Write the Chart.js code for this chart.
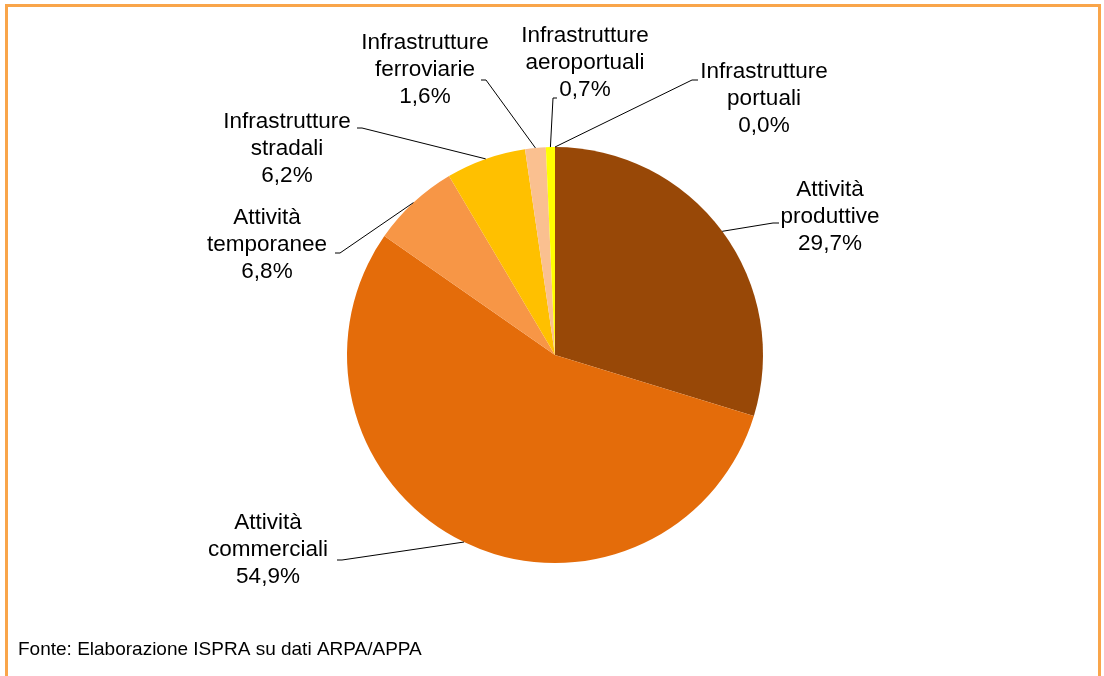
<!DOCTYPE html>
<html>
<head>
<meta charset="utf-8">
<script src="https://cdn.jsdelivr.net/npm/chart.js@4/dist/chart.umd.min.js"></script>
<style>
  html, body { margin: 0; padding: 0; background: #fff; }
  #wrap { position: relative; width: 1104px; height: 676px; overflow: hidden; }
  #frame { position: absolute; left: 5px; top: 4px; width: 1096px; height: 700px; border: 3px solid #F9A54A; box-sizing: border-box; }
  #chart { position: absolute; left: 0; top: 0; }
</style>
</head>
<body>
<div id="wrap">
  <div id="frame"></div>
  <canvas id="chart" width="1104" height="676"></canvas>
</div>
<script>
// data
const categories = [
    ['Attività', 'produttive'],
    ['Attività', 'commerciali'],
    ['Attività', 'temporanee'],
    ['Infrastrutture', 'stradali'],
    ['Infrastrutture', 'ferroviarie'],
    ['Infrastrutture', 'aeroportuali'],
    ['Infrastrutture', 'portuali']
];
const values = [29.7, 54.9, 6.8, 6.2, 1.6, 0.7, 0.0];
const sliceColors = ['#984807', '#E46C0A', '#F79646', '#FFC000', '#FAC090', '#FFFF00', '#000000'];
const sourceNote = 'Fonte: Elaborazione ISPRA su dati ARPA/APPA';

// label placement: text centre x, first line y, leader stub (from -> to)
const labelLayout = [
    { cx: 830, cy: 190, sx0: 779, sx1: 773, sy: 223 },
    { cx: 268, cy: 523, sx0: 337, sx1: 342, sy: 560 },
    { cx: 267, cy: 218, sx0: 335, sx1: 340, sy: 253 },
    { cx: 287, cy: 122, sx0: 357, sx1: 362, sy: 128 },
    { cx: 425, cy: 43,  sx0: 481, sx1: 486, sy: 80 },
    { cx: 585, cy: 36,  sx0: 557, sx1: 553, sy: 98 },
    { cx: 764, cy: 72,  sx0: 698, sx1: 692, sy: 80 }
];

function formatPct(v) {
    return v.toFixed(1).replace('.', ',') + '%';
}

const pieLabels = {
    id: 'pieLabels',
    afterDraw(chart) {
        const ctx = chart.ctx;
        const meta = chart.getDatasetMeta(0);
        ctx.save();
        ctx.font = '22.5px "Liberation Sans", Arial, sans-serif';
        ctx.fillStyle = '#000';
        ctx.textAlign = 'center';
        ctx.textBaseline = 'middle';
        ctx.strokeStyle = '#000';
        ctx.lineWidth = 1;

        meta.data.forEach((arc, i) => {
            const p = arc.getProps(['x', 'y', 'startAngle', 'endAngle', 'outerRadius'], true);
            const mid = (p.startAngle + p.endAngle) / 2;
            const ex = p.x + Math.cos(mid) * p.outerRadius;
            const ey = p.y + Math.sin(mid) * p.outerRadius;
            const lay = labelLayout[i];

            ctx.beginPath();
            ctx.moveTo(lay.sx0, lay.sy);
            ctx.lineTo(lay.sx1, lay.sy);
            ctx.lineTo(ex, ey);
            ctx.stroke();

            const lines = categories[i].concat([formatPct(values[i])]);
            lines.forEach((t, j) => ctx.fillText(t, lay.cx, lay.cy + j * 27));
        });

        ctx.font = '19px "Liberation Sans", Arial, sans-serif';
        ctx.textAlign = 'left';
        ctx.fillText(sourceNote, 18, 650);
        ctx.restore();
    }
};

new Chart(document.getElementById('chart'), {
    type: 'pie',
    data: {
        labels: categories,
        datasets: [{
            data: values,
            backgroundColor: sliceColors,
            borderWidth: 0
        }]
    },
    options: {
        responsive: false,
        animation: false,
        layout: { padding: { top: 147, bottom: 113, left: 347, right: 341 } },
        plugins: {
            legend: { display: false },
            tooltip: { enabled: false }
        }
    },
    plugins: [pieLabels]
});
</script>
</body>
</html>
